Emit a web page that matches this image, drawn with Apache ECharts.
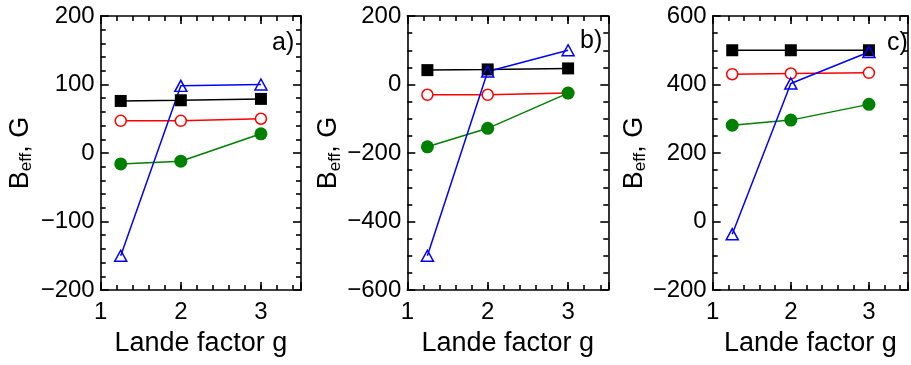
<!DOCTYPE html>
<html><head><meta charset="utf-8">
<script src="https://cdn.jsdelivr.net/npm/echarts@6/dist/echarts.min.js"></script>
<style>html,body{margin:0;padding:0;background:#fff}#c{width:911px;height:365px}</style>
</head><body><div id="c"></div>
<script>
// ---- data ----
const gValues = [1.25, 2, 3];
const panelLabels = ['a)', 'b)', 'c)'];
const aSquare = [76, 77, 79];
const aOpenCircle = [47, 47, 50];
const aDot = [-16, -12, 28];
const aTriangle = [-150, 98, 100];
const bSquare = [42, 44, 47];
const bOpenCircle = [-30, -30, -25];
const bDot = [-182, -128, -25];
const bTriangle = [-500, 38, 100];
const cSquare = [500, 500, 500];
const cOpenCircle = [430, 432, 434];
const cDot = [281, 296, 342];
const cTriangle = [-37, 403, 495];
const yMin = [-200, -600, -200];
const yMax = [200, 200, 600];
const yStep = [100, 200, 200];
const yMinorSplit = [5, 4, 4];
const xMin = 1, xMax = 3.5, xStep = 1, xMinorStep = 0.2;
const xName = 'Lande factor g';

// ---- layout / style ----
const FONT = 'Liberation Sans, Arial, sans-serif';
const grids = [
  {left: 100.7, right: 610, top: 16, bottom: 75},
  {left: 407.3, right: 302.7, top: 16, bottom: 75},
  {left: 712.7, right: -3, top: 16, bottom: 75}
];
const yNameGap = [66, 60, 64];
const labelPos = [[272, 45], [580, 43], [887, 45]];
const AX = {color: '#000', width: 1.6};
const minus = v => (v < 0 ? '\u2212' + Math.abs(v) : String(v));

const panels = [
  [aSquare, aOpenCircle, aDot, aTriangle],
  [bSquare, bOpenCircle, bDot, bTriangle],
  [cSquare, cOpenCircle, cDot, cTriangle]
];

const xAxis = [], yAxis = [], series = [], graphic = [];
panels.forEach((p, i) => {
  const base = {type: 'value', gridIndex: i, min: xMin, max: xMax, splitLine: {show: false}};
  xAxis.push(Object.assign({}, base, {
    position: 'bottom', interval: xStep,
    axisLine: {show: true, onZero: false, lineStyle: AX},
    axisTick: {show: true, inside: true, length: 8, lineStyle: AX},
    axisLabel: {show: true, margin: 10, fontSize: 24, fontFamily: FONT, color: '#000',
      formatter: v => (Number.isInteger(v) ? String(v) : '')},
    name: xName, nameLocation: 'middle', nameGap: 40,
    nameTextStyle: {fontSize: 27, fontFamily: FONT, color: '#000'}
  }));
  xAxis.push(Object.assign({}, base, {
    position: 'bottom', interval: xMinorStep,
    axisLine: {show: false, onZero: false},
    axisTick: {show: true, inside: true, length: 5, lineStyle: AX},
    axisLabel: {show: false}
  }));
  xAxis.push(Object.assign({}, base, {
    position: 'top', interval: xStep,
    axisLine: {show: true, onZero: false, lineStyle: AX},
    axisTick: {show: true, inside: true, length: 8, lineStyle: AX},
    axisLabel: {show: false}
  }));
  xAxis.push(Object.assign({}, base, {
    position: 'top', interval: xMinorStep,
    axisLine: {show: false, onZero: false},
    axisTick: {show: true, inside: true, length: 5, lineStyle: AX},
    axisLabel: {show: false}
  }));
  const ybase = {type: 'value', gridIndex: i, min: yMin[i], max: yMax[i], interval: yStep[i],
    splitLine: {show: false},
    axisLine: {show: true, onZero: false, lineStyle: AX},
    axisTick: {show: true, inside: true, length: 8, lineStyle: AX},
    minorTick: {show: true, splitNumber: yMinorSplit[i], length: 5, lineStyle: AX}};
  yAxis.push(Object.assign({}, ybase, {
    position: 'left',
    axisLabel: {show: true, margin: 6, fontSize: 24, fontFamily: FONT, color: '#000', formatter: minus},
    name: '{b|B}{s|eff}{b|, G}', nameLocation: 'middle', nameGap: yNameGap[i], nameRotate: 90,
    nameTextStyle: {fontSize: 27, fontFamily: FONT, color: '#000',
      rich: {b: {fontSize: 27, fontFamily: FONT, color: '#000'},
             s: {fontSize: 17, fontFamily: FONT, color: '#000', padding: [12, 0, 0, 0]}}}
  }));
  yAxis.push(Object.assign({}, ybase, {position: 'right', axisLabel: {show: false}}));

  const mk = arr => gValues.map((g, k) => [g, arr[k]]);
  const common = {type: 'line', xAxisIndex: 4 * i, yAxisIndex: 2 * i, animation: false};
  series.push(Object.assign({}, common, {data: mk(p[0]), symbol: 'rect', symbolSize: 12,
    lineStyle: {color: '#000', width: 1.5}, itemStyle: {color: '#000'}}));
  series.push(Object.assign({}, common, {data: mk(p[1]), symbol: 'circle', symbolSize: 11,
    lineStyle: {color: '#ff0000', width: 1.5},
    itemStyle: {color: '#fff', borderColor: '#ff0000', borderWidth: 1.5}}));
  series.push(Object.assign({}, common, {data: mk(p[2]), symbol: 'circle', symbolSize: 13,
    lineStyle: {color: '#008000', width: 1.5}, itemStyle: {color: '#008000'}}));
  series.push(Object.assign({}, common, {data: mk(p[3]), symbol: 'triangle', symbolSize: [12, 11],
    lineStyle: {color: '#0000ff', width: 1.5},
    itemStyle: {color: 'rgba(0,0,0,0)', borderColor: '#0000ff', borderWidth: 1.5}}));

  graphic.push({type: 'text', left: labelPos[i][0], top: labelPos[i][1] - 14,
    style: {text: panelLabels[i], font: '25px ' + FONT, fill: '#000'}});
});

const chart = echarts.init(document.getElementById('c'), null, {renderer: 'canvas'});
chart.setOption({
  animation: false,
  backgroundColor: '#fff',
  grid: grids,
  xAxis, yAxis, series, graphic
});
</script></body></html>
